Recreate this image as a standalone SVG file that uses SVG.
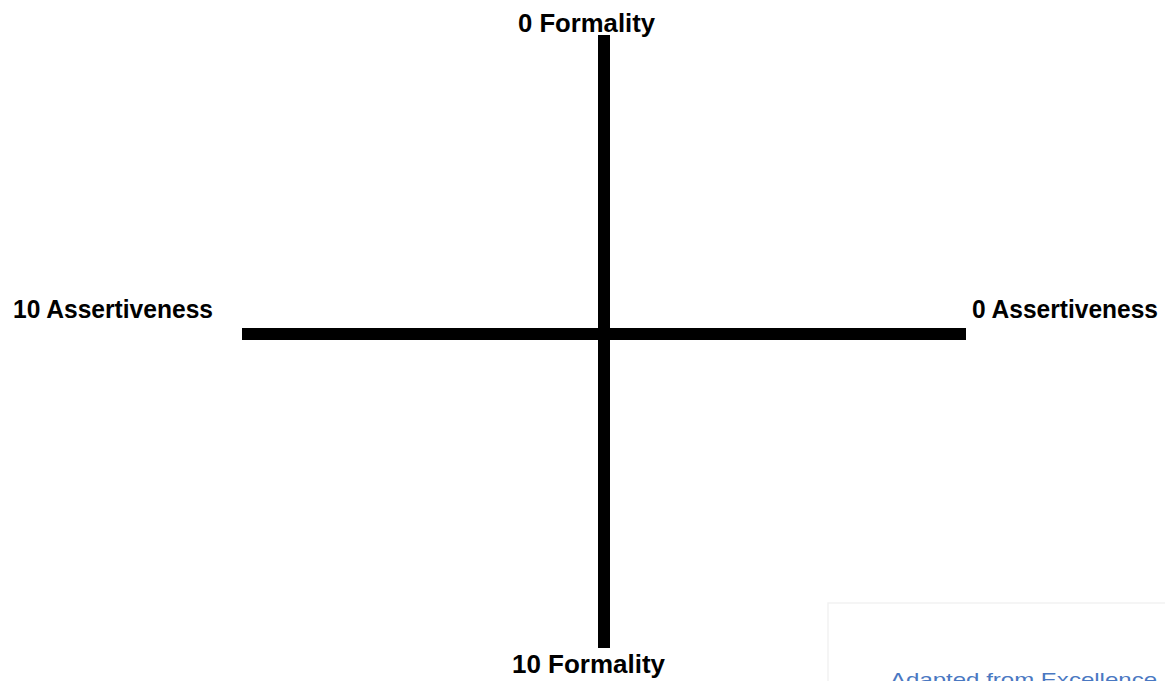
<svg xmlns="http://www.w3.org/2000/svg" width="1165" height="681" viewBox="0 0 1165 681">
<style>
.lbl{font-family:"Liberation Sans",Arial,sans-serif;font-weight:bold;font-size:25px;fill:#000}
.axis{stroke:#000;stroke-width:12;fill:none}
.note{font-family:"Liberation Sans",Arial,sans-serif;font-size:19px;fill:#4a78c2}
</style>
<rect width="1165" height="681" fill="#fff"/>
<g id="connectors">
<line class="axis" x1="242" y1="334" x2="966" y2="334"/>
<line class="axis" x1="604" y1="35" x2="604" y2="648"/>
</g>
<g id="top"><text class="lbl" x="518" y="32" textLength="137" lengthAdjust="spacingAndGlyphs">0 Formality</text></g>
<g id="bottom"><text class="lbl" x="512" y="673" textLength="153" lengthAdjust="spacingAndGlyphs">10 Formality</text></g>
<g id="left"><text class="lbl" x="13" y="318" textLength="200" lengthAdjust="spacingAndGlyphs">10 Assertiveness</text></g>
<g id="right"><text class="lbl" x="972" y="318" textLength="186" lengthAdjust="spacingAndGlyphs">0 Assertiveness</text></g>
<g id="note">
<rect x="828" y="603" width="345" height="90" fill="#fff" stroke="#f2f2f2" stroke-width="1.5"/>
<text class="note" x="890" y="686" textLength="267" lengthAdjust="spacingAndGlyphs">Adapted from Excellence</text>
</g>
</svg>
